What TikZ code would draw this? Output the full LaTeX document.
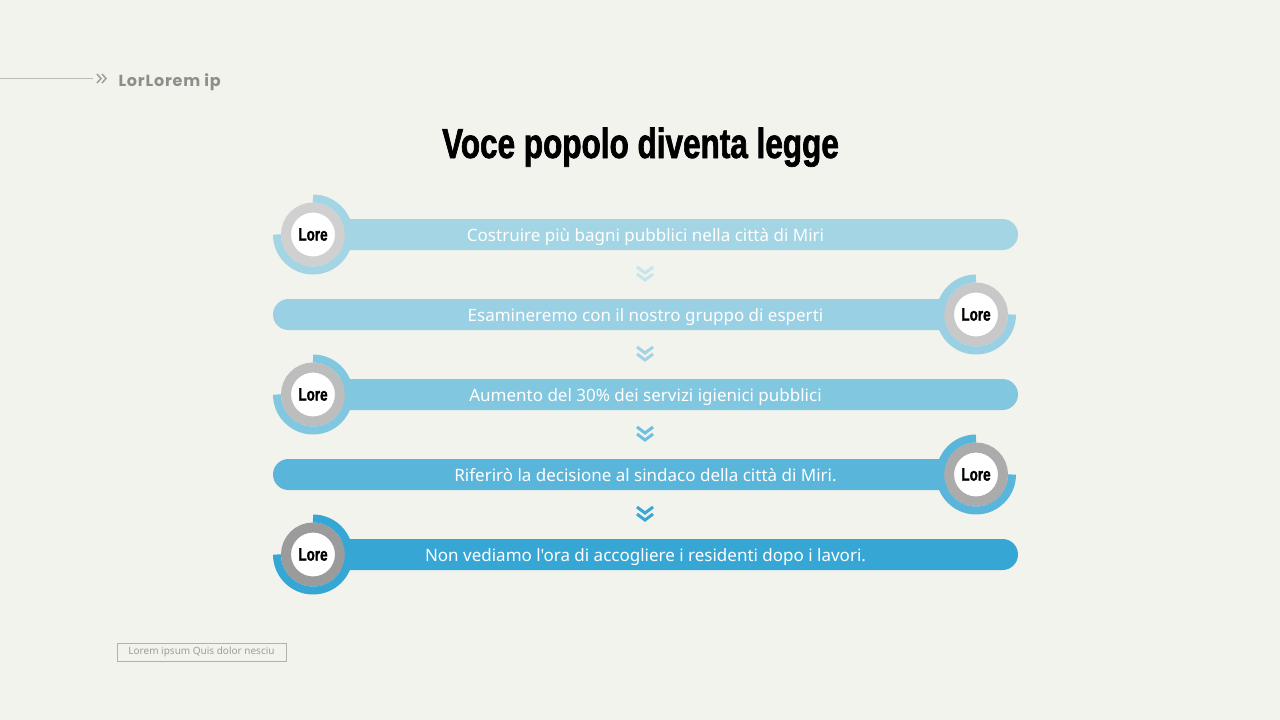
\documentclass[tikz,border=0pt]{standalone}
\usepackage{fontspec}
\setmainfont{Noto Sans}[Ligatures=TeXOff]
\newfontfamily\condfont[FakeStretch=0.75,BoldFeatures={FakeBold=1.5}]{Liberation Sans}
\newfontfamily\headfont[LetterSpace=5]{Poppins}
\usetikzlibrary{positioning}

\definecolor{bg}{HTML}{F2F3EC}
\definecolor{rowA}{HTML}{A3D5E5}
\definecolor{rowB}{HTML}{9AD0E3}
\definecolor{rowC}{HTML}{82C7E0}
\definecolor{rowD}{HTML}{5AB5DA}
\definecolor{rowE}{HTML}{36A7D5}
\definecolor{greyA}{HTML}{D0D0D0}
\definecolor{greyB}{HTML}{C8C8C8}
\definecolor{greyC}{HTML}{BDBDBD}
\definecolor{greyD}{HTML}{ABABAB}
\definecolor{greyE}{HTML}{9B9B9B}
\definecolor{chevA}{HTML}{C6E5EE}
\definecolor{chevB}{HTML}{A2D4E5}
\definecolor{chevC}{HTML}{6DC0DF}
\definecolor{chevD}{HTML}{3AA7D6}
\definecolor{muted}{HTML}{9E9E9A}

\begin{document}
\begin{tikzpicture}
            [x=1pt,y=-1pt,
             ring/.style={circle,fill=white,draw=#1,line width=10pt,minimum size=54pt,inner sep=0pt,
               font=\condfont\bfseries\fontsize{18}{18}\selectfont},
             band/.style={draw=#1,line width=8pt},
             bar/.style={fill=#1,rounded corners=15.5pt},
             label/.style={text=white,anchor=base,font=\fontsize{17}{18}\selectfont},
             chev/.pic={\draw[line width=3pt] (-8,-7) -- (0,-1) -- (8,-7) (-8,0) -- (0,6) -- (8,0);}]
            \fill[bg] (0,0) rectangle (1280,720);
            \useasboundingbox (0,0) rectangle (1280,720);

            % header
            \node[anchor=base west,text=muted!90!black,font=\headfont\bfseries\fontsize{16}{16}\selectfont] (hdr) at (115,86.5) {LorLorem ip};
            \coordinate (hdrline) at (0,78);
            \draw[muted!70,line width=1pt] (hdrline) -- ++(93,0);
            \draw[muted,line width=1.5pt] (97,74) -- (101,78.5) -- (97,83) (102,74) -- (106,78.5) -- (102,83);

            \node[anchor=base,font=\condfont\bfseries\fontsize{42}{42}\selectfont] (title) at (640.5,158) {Voce popolo diventa legge};

            % bars
            \fill[bar=rowA] (313,219) rectangle (1018,250);
            \fill[bar=rowB] (273,299) rectangle (976,330);
            \fill[bar=rowC] (313,379) rectangle (1018,410);
            \fill[bar=rowD] (273,459) rectangle (976,490);
            \fill[bar=rowE] (313,539) rectangle (1018,570);

            \node[label] (t1) at (645.5,241) {Costruire più bagni pubblici nella città di Miri};
            \node[label] (t2) at (645.5,321) {Esamineremo con il nostro gruppo di esperti};
            \node[label] (t3) at (645.5,401) {Aumento del 30\% dei servizi igienici pubblici};
            \node[label] (t4) at (645.5,481) {Riferirò la decisione al sindaco della città di Miri.};
            \node[label] (t5) at (645.5,561) {Non vediamo l'ora di accogliere i residenti dopo i lavori.};

            % rings
            \node[ring=greyA] (c1) at (313,234.5) {Lore};
            \node[ring=greyB] (c2) at (976,314.5) {Lore};
            \node[ring=greyC] (c3) at (313,394.5) {Lore};
            \node[ring=greyD] (c4) at (976,474.5) {Lore};
            \node[ring=greyE] (c5) at (313,554.5) {Lore};

            \draw[band=rowA] (c1.center) ++(-90:36) arc[start angle=-90,end angle=180,radius=36];
            \draw[band=rowB] (c2.center) ++(-90:36) arc[start angle=-90,end angle=-360,radius=36];
            \draw[band=rowC] (c3.center) ++(-90:36) arc[start angle=-90,end angle=180,radius=36];
            \draw[band=rowD] (c4.center) ++(-90:36) arc[start angle=-90,end angle=-360,radius=36];
            \draw[band=rowE] (c5.center) ++(-90:36) arc[start angle=-90,end angle=180,radius=36];

            % chevrons
            \pic[chevA] at (645,274) {chev};
            \pic[chevB] at (645,354) {chev};
            \pic[chevC] at (645,434) {chev};
            \pic[chevD] at (645,514) {chev};

            \node[draw=muted!80,line width=0.8pt,text=muted,minimum width=169pt,minimum height=18pt,inner sep=0pt,
              font=\fontsize{10}{10}\selectfont] (note) at (201.5,652) {Lorem ipsum Quis dolor nesciu};
          \end{tikzpicture}
\end{document}
